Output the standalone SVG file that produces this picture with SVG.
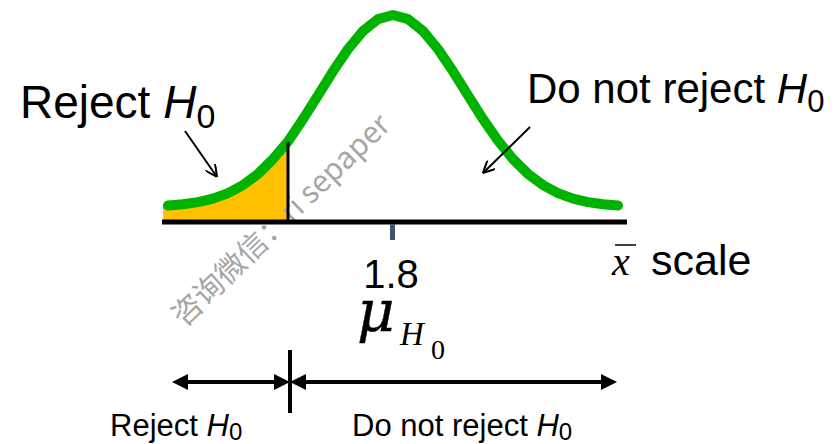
<svg xmlns="http://www.w3.org/2000/svg" width="838" height="444" viewBox="0 0 838 444">
<style>
  .sans { font-family: "Liberation Sans", Arial, sans-serif; fill: #000; }
  .serif { font-family: "Liberation Serif", "Times New Roman", serif; fill: #000; }
  .it { font-style: italic; }
  .conn { stroke: #000; fill: none; }
</style>
<defs>
  <marker id="open" viewBox="0 0 10 10" markerWidth="12" markerHeight="12" markerUnits="userSpaceOnUse" refX="10" refY="5" orient="auto">
    <path d="M0,0 L10,5 L0,10" fill="none" stroke="#000" stroke-width="1.7"/>
  </marker>
  <marker id="solid" viewBox="0 0 16 16" markerWidth="16" markerHeight="16" markerUnits="userSpaceOnUse" refX="8" refY="8" orient="auto-start-reverse">
    <path d="M0,0 L16,8 L0,16 Z" fill="#000"/>
  </marker>
</defs>
<rect width="838" height="444" fill="#fff"/>

<g id="reject-area">
  <path d="M163,222 L163,207 L168,205.5 L183,204.3 L198,202.1 L213,198.6 L228,193.1 L243,185.1 L258,173.9 L273,159.1 L288,141.5 L288,222 Z" fill="#ffc000"/>
</g>

<g id="watermark">
  <text x="184" y="328" transform="rotate(-44 184 328)" font-family="'Noto Sans CJK SC', sans-serif" font-size="30" fill="#a6a6a6">咨询微信：ri sepaper</text>
</g>

<g id="curve">
  <path d="M168,205.5 L183,204.3 L198,202.1 L213,198.6 L228,193.1 L243,185.1 L258,173.9 L273,159.1 L288,141.5 L303,119.1 L318,95.4 L333,71.3 L348,49.1 L363,31 L378,19.1 L393,15 L408,19.1 L423,31 L438,49.1 L453,71.3 L468,95.4 L483,119.1 L498,140.7 L513,159.1 L528,173.9 L543,185.1 L558,193.1 L573,198.6 L588,202.1 L603,204.3 L618,205.5" fill="none" stroke="#00b300" stroke-width="10" stroke-linecap="round" stroke-linejoin="round"/>
</g>

<g id="axis">
  <line x1="162" y1="222" x2="627" y2="222" stroke="#000" stroke-width="5"/>
  <line x1="288" y1="142" x2="288" y2="222" stroke="#000" stroke-width="3"/>
  <rect x="390" y="224" width="5" height="16" fill="#44546a"/>
</g>

<g id="labels">
  <text class="sans" x="20" y="118" font-size="46">Reject <tspan class="it">H</tspan><tspan font-size="34" dy="10">0</tspan></text>
  <text class="sans" x="527" y="103" font-size="42">Do not reject <tspan class="it">H</tspan><tspan font-size="31" dy="9">0</tspan></text>
  <text class="sans" x="391" y="288" font-size="40" text-anchor="middle">1.8</text>
  <text x="357" y="331" font-family="'DejaVu Serif', serif" font-style="italic" font-size="58" stroke="#000" stroke-width="0.4">μ</text>
  <text class="serif it" x="400" y="345" font-size="33">H</text>
  <text class="serif" x="431" y="359" font-size="28">0</text>
  <text class="serif it" x="612" y="275" font-size="40">x</text>
  <line x1="615" y1="245" x2="636" y2="245" stroke="#000" stroke-width="1.5"/>
  <text class="sans" x="651" y="275" font-size="43">scale</text>
  <text class="sans" x="110" y="436" font-size="31">Reject <tspan class="it">H</tspan><tspan font-size="24" dy="4">0</tspan></text>
  <text class="sans" x="352" y="436" font-size="31">Do not reject <tspan class="it">H</tspan><tspan font-size="24" dy="4">0</tspan></text>
</g>

<g id="connectors">
  <line class="conn" x1="185" y1="131" x2="217" y2="177" stroke-width="2" marker-end="url(#open)"/>
  <line class="conn" x1="530" y1="127" x2="483" y2="173" stroke-width="2" marker-end="url(#open)"/>
  <line x1="290" y1="350" x2="290" y2="413" stroke="#000" stroke-width="4"/>
  <line class="conn" x1="180" y1="382" x2="282" y2="382" stroke-width="4" marker-start="url(#solid)" marker-end="url(#solid)"/>
  <line class="conn" x1="298" y1="382" x2="609" y2="382" stroke-width="4" marker-start="url(#solid)" marker-end="url(#solid)"/>
</g>
</svg>
